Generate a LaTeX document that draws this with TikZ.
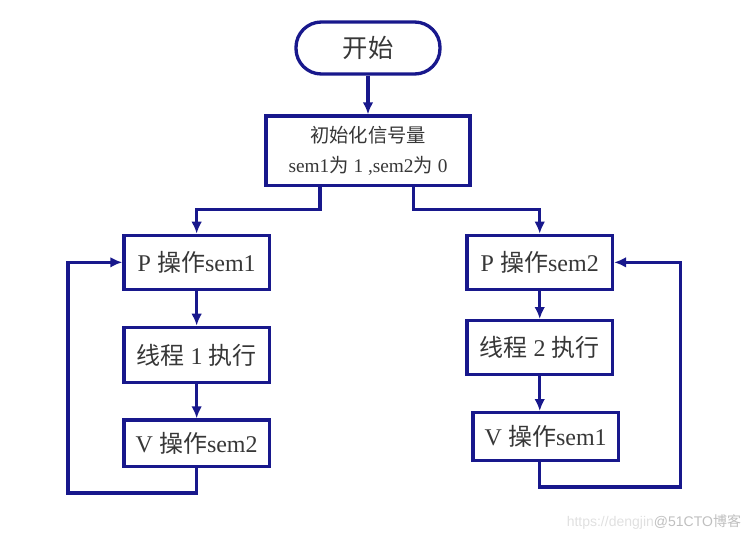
\documentclass[tikz,border=0pt]{standalone}
\usepackage{fontspec}
\setmainfont{Liberation Serif}
\newfontfamily\cjk{Noto Sans CJK SC}
\newfontfamily\wmfont{Liberation Sans}
\usetikzlibrary{positioning,arrows.meta}
\definecolor{flowblue}{RGB}{24,24,140}
\definecolor{txtgray}{RGB}{55,55,55}

\begin{document}
\begin{tikzpicture}[every node/.style={draw=flowblue, line width=2.5pt, text=txtgray, inner sep=0pt, font=\fontsize{18}{22}\selectfont, minimum width=109pt, minimum height=40.5pt},
  >={Latex[length=9pt,width=8pt]}]
  \useasboundingbox (0,0) rectangle (564pt,-406.5pt);
  \node[rounded corners=19pt, minimum width=108pt, minimum height=39pt, font=\fontsize{19}{22}\selectfont] (start) at (276pt,-36pt) {\cjk 开始};
  \node[minimum width=153pt, minimum height=52pt, align=center, font=\fontsize{14.5}{22.5}\selectfont, below=29pt of start] (init) {{\cjk 初始化信号量}\\sem1{\cjk 为} 1 ,sem2{\cjk 为} 0};
  \node[below=35pt of init, xshift=-128.5pt] (p1) {P {\cjk 操作}sem1};
  \node[below=26pt of p1, minimum height=41.5pt] (run1) {{\cjk 线程} 1 {\cjk 执行}};
  \node[below=25.5pt of run1, minimum height=35pt] (v2) {V {\cjk 操作}sem2};
  \node[below=35pt of init, xshift=128.8pt] (p2) {P {\cjk 操作}sem2};
  \node[below=21pt of p2] (run2) {{\cjk 线程} 2 {\cjk 执行}};
  \node[below=26pt of run2, xshift=4.5pt, minimum height=36pt] (v1) {V {\cjk 操作}sem1};
  \node[draw=none, anchor=east, minimum width=0pt, minimum height=0pt, font=\wmfont\fontsize{10.5}{12}\selectfont, text=black!12] (mark) at (557pt,-391.5pt) {https://dengjin{\color{black!25}@51CTO{\cjk 博客}}};
  \draw[->, flowblue, line width=2.5pt] (start) -- (init);
  \draw[->, flowblue, line width=2.5pt] ([xshift=-36pt]init.south) -- ++(0,-17pt) -| (p1);
  \draw[->, flowblue, line width=2.5pt] ([xshift=34pt]init.south) -- ++(0,-17pt) -| (p2);
  \draw[->, flowblue, line width=2.5pt] (p1) -- (run1);
  \draw[->, flowblue, line width=2.5pt] (run1) -- (v2);
  \draw[->, flowblue, line width=2.5pt] (p2) -- (run2);
  \draw[->, flowblue, line width=2.5pt] (run2) -- (run2 |- v1.north);
  \draw[->, flowblue, line width=2.5pt] (v2.south) -- ++(0,-18.5pt) -- ++(-96.5pt,0) |- (p1.west);
  \draw[->, flowblue, line width=2.5pt] (v1.south -| p2) -- ++(0,-18.5pt) -- ++(105.5pt,0) |- (p2.east);
\end{tikzpicture}
\end{document}
